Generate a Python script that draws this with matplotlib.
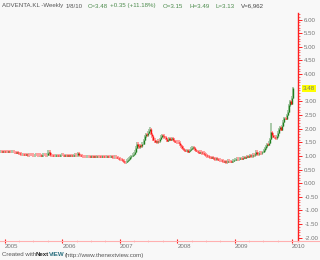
import numpy as np
import pandas as pd
import matplotlib
matplotlib.use("Agg")
import matplotlib.pyplot as plt
import matplotlib.dates as mdates
from matplotlib.lines import Line2D

# weekly closes, ADVENTA.KL
close_2004 = [1.17, 1.16, 1.18, 1.17, 1.16]
close_2005 = [1.16, 1.15, 1.17, 1.16, 1.14, 1.15, 1.16, 1.14, 1.13, 1.12, 1.13, 1.11, 1.10,
              1.08, 1.06, 1.07, 1.05, 1.04, 1.06, 1.03, 1.02, 1.04, 1.03, 1.05, 1.04, 1.02,
              1.03, 1.05, 1.04, 1.02, 1.04, 1.03, 1.01, 1.02, 1.04, 1.03, 1.02, 1.05, 1.10,
              1.15, 1.04, 1.02, 1.03, 1.01, 1.00, 1.02, 1.03, 1.01, 1.00, 1.02, 1.03, 1.04]
close_2006 = [1.03, 1.01, 1.02, 1.00, 1.02, 1.01, 1.03, 1.02, 1.00, 1.01, 1.03, 1.04, 1.02,
              1.10, 1.03, 1.02, 1.01, 1.00, 0.99, 1.00, 0.98, 0.99, 1.00, 0.98, 0.97, 0.98,
              0.99, 0.97, 0.98, 0.96, 0.97, 0.99, 0.98, 0.97, 0.96, 0.98, 0.99, 0.97, 0.96,
              0.97, 0.98, 0.97, 0.96, 0.98, 0.97, 0.95, 0.96, 0.97, 0.95, 0.93, 0.92, 0.90]
close_2007 = [0.88, 0.85, 0.82, 0.78, 0.76, 0.78, 0.82, 0.86, 0.90, 0.95, 1.00, 1.04, 1.08,
              1.15, 1.30, 1.45, 1.38, 1.32, 1.40, 1.35, 1.45, 1.58, 1.72, 1.80, 1.75, 1.85,
              1.92, 1.98, 1.80, 1.72, 1.60, 1.52, 1.55, 1.50, 1.56, 1.54, 1.62, 1.70, 1.76,
              1.74, 1.68, 1.62, 1.56, 1.60, 1.64, 1.58, 1.62, 1.66, 1.60, 1.55, 1.52, 1.50]
close_2008 = [1.52, 1.48, 1.40, 1.35, 1.30, 1.25, 1.22, 1.18, 1.20, 1.16, 1.18, 1.22, 1.26,
              1.30, 1.33, 1.28, 1.22, 1.18, 1.14, 1.12, 1.15, 1.13, 1.10, 1.12, 1.08, 1.05,
              1.02, 0.98, 0.96, 0.95, 0.93, 0.96, 0.92, 0.90, 0.88, 0.91, 0.89, 0.86, 0.84,
              0.85, 0.82, 0.80, 0.78, 0.80, 0.77, 0.79, 0.82, 0.80, 0.78, 0.80, 0.83, 0.85]
close_2009 = [0.86, 0.88, 0.90, 0.87, 0.89, 0.92, 0.90, 0.93, 0.95, 0.93, 0.96, 0.98, 0.97,
              1.00, 1.02, 0.99, 1.04, 1.02, 1.06, 1.15, 1.08, 1.06, 1.10, 1.12, 1.09, 1.14,
              1.20, 1.28, 1.35, 1.42, 1.40, 1.48, 1.62, 1.88, 1.78, 1.70, 1.66, 1.64, 1.72,
              1.85, 1.98, 2.06, 1.95, 2.10, 2.25, 2.38, 2.35, 2.50, 2.62, 2.85, 3.00, 2.92]
close_2010 = [3.13, 3.48]

# a few weeks with long upper shadows
spike_highs = {"2007-07-13": 2.05, "2009-08-21": 2.21, "2005-09-30": 1.20}

y_ticks = [-2.0, -1.5, -1.0, -0.5, 0.0, 0.5, 1.0, 1.5, 2.0, 2.5, 3.0, 4.0, 4.5, 5.0, 5.5, 6.0]
last_close = 3.48

closes = np.array(close_2004 + close_2005 + close_2006 + close_2007 + close_2008
                  + close_2009 + close_2010)
dates = pd.date_range("2004-12-03", periods=len(closes), freq="W-FRI")
opens = np.r_[closes[0], closes[:-1]]
highs = np.maximum(opens, closes) + 0.05
lows = np.minimum(opens, closes) - 0.05
for d, h in spike_highs.items():
    highs[dates.get_loc(pd.Timestamp(d))] = h

plt.rcParams["font.family"] = ["Liberation Sans", "DejaVu Sans"]
fs = 4.4

bg = "#f8f8f8"
fig = plt.figure(figsize=(3.2, 2.6), dpi=100, facecolor=bg)
ax = fig.add_axes([0, 19 / 260, 298 / 320, 228 / 260], facecolor=bg)

up = closes >= opens
x = mdates.date2num(dates)
ax.vlines(x[up], lows[up], highs[up], color="#a9c9a9", linewidth=1.4)
ax.vlines(x[~up], lows[~up], highs[~up], color="#ffa0a0", linewidth=1.4)
ax.vlines(x[up], opens[up], closes[up], color="#1f7f1f", linewidth=1.0)
ax.vlines(x[~up], closes[~up], opens[~up], color="#ff1010", linewidth=1.0)

ax.set_xlim(mdates.date2num(pd.Timestamp("2004-11-30")), mdates.date2num(pd.Timestamp("2010-02-07")))
ax.set_ylim(-2.12, 6.24)

for s in ["top", "left"]:
    ax.spines[s].set_visible(False)
ax.spines["right"].set_color("#ff2020")
ax.spines["right"].set_linewidth(1.0)
ax.spines["bottom"].set_color("#ffb0b0")
ax.spines["bottom"].set_linewidth(0.8)

ax.yaxis.tick_right()
ax.set_yticks(y_ticks)
ax.set_yticklabels([f"{v:.2f}" for v in y_ticks])
ax.set_yticks(np.arange(-2.0, 6.21, 0.1), minor=True)
ax.tick_params(axis="y", which="major", colors="#ff2020", labelcolor="#777777",
               length=3, width=0.7, labelsize=fs, pad=1.5)
ax.tick_params(axis="y", which="minor", colors="#ff4040", length=1.5, width=0.5)
# last close marker on the price scale
ax.text(1.0 + 5 / 298, last_close, f"{last_close:.2f}", transform=ax.get_yaxis_transform(),
        fontsize=fs, color="#777777", va="center", ha="left",
        bbox=dict(boxstyle="square,pad=0.15", fc="#ffff00", ec="none"))

ax.xaxis.set_major_locator(mdates.YearLocator())
ax.xaxis.set_major_formatter(mdates.DateFormatter("%Y"))
ax.xaxis.set_minor_locator(mdates.MonthLocator(bymonth=[4, 7, 10]))
ax.tick_params(axis="x", which="major", colors="#ff2020", labelcolor="#777777",
               direction="inout", length=3, width=0.8, labelsize=fs, pad=1)
ax.tick_params(axis="x", which="minor", colors="#ffb0b0", direction="inout",
               length=2, width=0.5)
for lbl in ax.get_xticklabels():
    lbl.set_horizontalalignment("left")

# bottom axis line continues under the price scale
fig.add_artist(Line2D([298 / 320, 1], [19 / 260, 19 / 260], color="#ffb0b0", linewidth=0.8))

# header line
hy = 1 - 6 / 260
fig.text(2 / 320, hy, "ADVENTA.KL -Weekly", fontsize=fs, color="#555555", va="center")
fig.text(66 / 320, hy, "1/8/10", fontsize=fs, color="#555555", va="center")
green = "#4a8a4a"
for px, t in [(88, "C=3.48"), (110, "+0.35 (+11.18%)"), (163, "O=3.15"),
              (189, "H=3.49"), (215, "L=3.13")]:
    fig.text(px / 320, hy, t, fontsize=fs, color=green, va="center")
fig.text(241 / 320, hy, "V=6,962", fontsize=fs, color="#444444", va="center")

# footer
fy = 1 - 255 / 260
fig.text(2 / 320, fy, "Created with", fontsize=fs, color="#555555", va="center")
fig.text(36 / 320, fy, "Next", fontsize=fs, color="#222222", va="center", fontweight="bold")
fig.text(48.5 / 320, fy, "VIEW", fontsize=fs, color="#2a6f7f", va="center", fontweight="bold")
fig.text(65 / 320, fy, "(http://www.thenextview.com)", fontsize=fs, color="#555555", va="center")

fig.savefig("out.png", dpi=100, facecolor=bg)
